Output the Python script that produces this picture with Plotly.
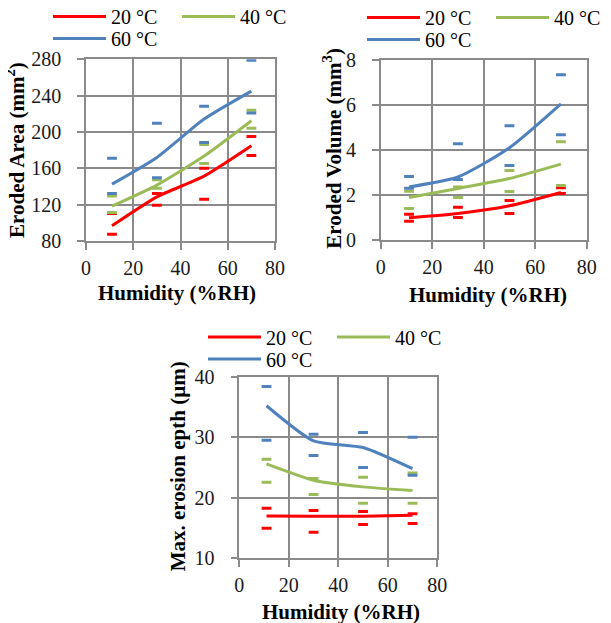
import plotly.graph_objects as go

# ---------------- data ----------------
humidity = [11, 30, 50, 70]
temps = ["20 °C", "40 °C", "60 °C"]

area_20 = [96.7, 128.6, 151.4, 184.8]
area_40 = [118.3, 141.5, 173.5, 212.4]
area_60 = [142.6, 172.0, 214.2, 245.0]
area_20_hi = [110.3, 132.3, 160.0, 195.1]
area_20_lo = [87.5, 119.4, 126.0, 174.2]
area_40_hi = [129.4, 147.5, 186.3, 223.8]
area_40_lo = [111.4, 138.2, 165.4, 204.0]
area_60_hi = [171.0, 209.5, 228.2, 279.0]
area_60_lo = [132.3, 149.6, 188.5, 220.8]

vol_20 = [0.99, 1.18, 1.52, 2.11]
vol_40 = [1.89, 2.29, 2.73, 3.37]
vol_60 = [2.36, 2.80, 4.10, 6.05]
vol_20_hi = [1.14, 1.45, 1.76, 2.32]
vol_20_lo = [0.83, 1.00, 1.18, 2.07]
vol_40_hi = [2.17, 2.36, 3.09, 4.37]
vol_40_lo = [1.40, 1.89, 2.16, 2.42]
vol_60_hi = [2.82, 4.28, 5.08, 7.34]
vol_60_lo = [2.30, 2.69, 3.31, 4.68]

depth_20 = [17.0, 16.95, 16.95, 17.1]
depth_40 = [25.6, 22.9, 21.8, 21.2]
depth_60 = [35.2, 29.4, 28.3, 24.8]
depth_20_hi = [18.25, 17.9, 17.75, 17.35]
depth_20_lo = [14.95, 14.3, 15.6, 15.75]
depth_40_hi = [26.35, 23.2, 23.4, 24.1]
depth_40_lo = [22.55, 20.55, 19.1, 19.1]
depth_60_hi = [38.4, 30.5, 30.8, 30.0]
depth_60_lo = [29.5, 27.0, 25.0, 23.7]

x_ticks = [0, 20, 40, 60, 80]
area_ticks = [80, 120, 160, 200, 240, 280]
vol_ticks = [0, 2, 4, 6, 8]
depth_ticks = [10, 20, 30, 40]

x_title = "<b>Humidity (%RH)</b>"
y_titles = ["<b>Eroded Area (mm<sup>2</sup>)</b>",
            "<b>Eroded Volume (mm<sup>3</sup>)</b>",
            "<b>Max. erosion epth (µm)</b>"]

colors = ["#FF0000", "#9BBB59", "#4F81BD"]

W, H = 611, 623
FONT = "Liberation Serif"

fig = go.Figure()

panels = [
    dict(xa="x", ya="y", means=[area_20, area_40, area_60],
         his=[area_20_hi, area_40_hi, area_60_hi], los=[area_20_lo, area_40_lo, area_60_lo],
         legs=["legend", "legend", "legend2"]),
    dict(xa="x2", ya="y2", means=[vol_20, vol_40, vol_60],
         his=[vol_20_hi, vol_40_hi, vol_60_hi], los=[vol_20_lo, vol_40_lo, vol_60_lo],
         legs=["legend3", "legend3", "legend4"]),
    dict(xa="x3", ya="y3", means=[depth_20, depth_40, depth_60],
         his=[depth_20_hi, depth_40_hi, depth_60_hi], los=[depth_20_lo, depth_40_lo, depth_60_lo],
         legs=["legend5", "legend5", "legend6"]),
]

for p in panels:
    for i, name in enumerate(temps):
        fig.add_trace(go.Scatter(
            x=humidity + humidity, y=p["his"][i] + p["los"][i], mode="markers",
            marker=dict(symbol="line-ew", size=7, line=dict(color=colors[i], width=3)),
            xaxis=p["xa"], yaxis=p["ya"], showlegend=False, hoverinfo="skip"))
    for i, name in enumerate(temps):
        fig.add_trace(go.Scatter(
            x=humidity, y=p["means"][i], mode="lines", name=name,
            line=dict(color=colors[i], width=3, shape="spline", smoothing=0.6),
            xaxis=p["xa"], yaxis=p["ya"], legend=p["legs"][i]))

def px_x(v):
    return v / W

def px_y(v):
    return 1 - v / H

axis_common = dict(
    showline=True, mirror=True, linecolor="#8a8a8a", linewidth=1.5,
    showgrid=True, gridcolor="#8a8a8a", gridwidth=1.5, zeroline=False,
    ticks="outside", ticklen=7, tickcolor="#8a8a8a", tickwidth=1.5,
    ticklabelposition="outside", automargin=False,
    tickfont=dict(family=FONT, size=20, color="#1a1a1a"),
)
title_font = dict(family=FONT, size=21, color="black")

# pixel boxes of the plot areas (page is offset by the 8px body margin)
domains = [
    dict(x=[78, 267], y=[51.3, 233]),
    dict(x=[372.7, 578.7], y=[52, 232]),
    dict(x=[231.3, 429.3], y=[368.7, 550.3]),
]
yranges = [[80, 280], [0, 8], [10, 40]]
ytickv = [area_ticks, vol_ticks, depth_ticks]
xtitle_pos = [(168.7, 285), (480.3, 287), (332.8, 603.7)]
ytitle_pos = [(8, 142), (323.7, 140), (170.3, 458)]

layout_axes = {}
annotations = []
for k in range(3):
    suf = "" if k == 0 else str(k + 1)
    d = domains[k]
    layout_axes["xaxis" + suf] = dict(
        axis_common, domain=[px_x(d["x"][0]), px_x(d["x"][1])], range=[0, 80],
        tickvals=x_ticks, anchor="y" + suf, ticklabelstandoff=1)
    layout_axes["yaxis" + suf] = dict(
        axis_common, domain=[px_y(d["y"][1]), px_y(d["y"][0])], range=yranges[k],
        tickvals=ytickv[k], anchor="x" + suf, ticklabelstandoff=12)
    annotations.append(dict(text=x_title, x=px_x(xtitle_pos[k][0]), y=px_y(xtitle_pos[k][1]),
                            xref="paper", yref="paper", showarrow=False, font=title_font,
                            xanchor="center", yanchor="middle"))
    annotations.append(dict(text=y_titles[k], x=px_x(ytitle_pos[k][0]), y=px_y(ytitle_pos[k][1]),
                            xref="paper", yref="paper", showarrow=False, font=title_font,
                            textangle=-90, xanchor="center", yanchor="middle"))

def legend(x0, yc):
    return dict(orientation="h", x=px_x(x0), y=px_y(yc), xanchor="left", yanchor="middle",
                xref="container", yref="container",
                font=dict(family=FONT, size=20, color="black"), itemwidth=53,
                entrywidth=61, bgcolor="rgba(0,0,0,0)", borderwidth=0, tracegroupgap=0,
                itemclick=False, itemdoubleclick=False)

fig.update_layout(
    width=W, height=H, margin=dict(l=0, r=0, t=0, b=0, autoexpand=False),
    paper_bgcolor="white", plot_bgcolor="white",
    font=dict(family=FONT),
    showlegend=True,
    legend=legend(40, 8.5), legend2=legend(40, 30.5),
    legend3=legend(354, 9.5), legend4=legend(354, 31.5),
    legend5=legend(195, 329), legend6=legend(195, 351),
    annotations=annotations,
    **layout_axes,
)

fig.write_html("out.html")
